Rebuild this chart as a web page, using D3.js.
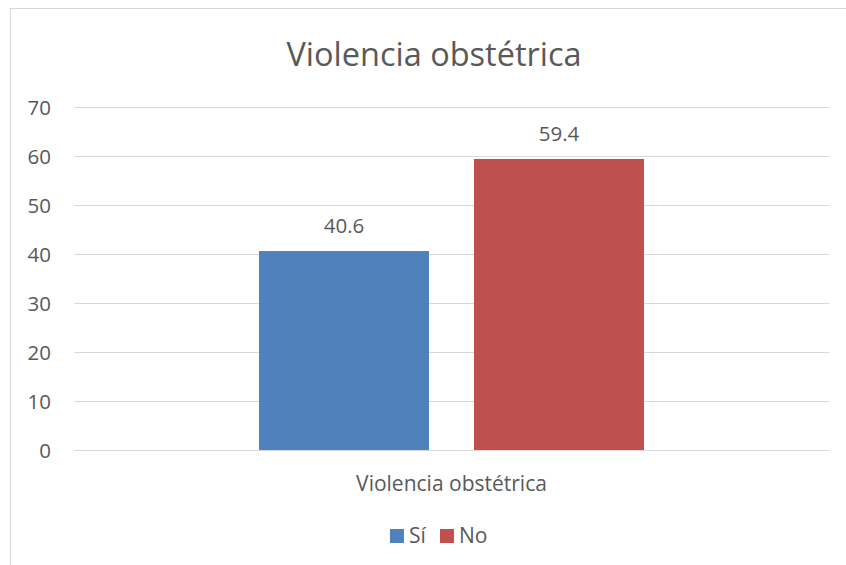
<!DOCTYPE html>
<html><head><meta charset="utf-8">
<script src="https://cdn.jsdelivr.net/npm/d3@7"></script>
<style>body{margin:0;background:#fff}svg{display:block}text{font-family:"Open Sans",Lato,sans-serif;fill:#595959}</style>
</head><body>
<script>
const title = "Violencia obstétrica";
const categories = ["Violencia obstétrica"];
const seriesNames = ["Sí", "No"];
const seriesValues = [40.6, 59.4];
const seriesColors = ["#4F81BD", "#C0504D"];
const yTicks = [0, 10, 20, 30, 40, 50, 60, 70];

(function () {
const W = 846, H = 565;
const svg = d3.select("body").append("svg").attr("width", W).attr("height", H);
svg.append("rect").attr("x", 10.5).attr("y", 8.5).attr("width", 860).attr("height", 600)
  .attr("fill", "#fff").attr("stroke", "#D9D9D9");

const pL = 74, pR = 829, pT = 107, pB = 450;
const y = d3.scaleLinear().domain([0, 70]).range([pB, pT]);
const x0 = d3.scaleBand().domain(categories).range([pL, pR]).paddingInner(0).paddingOuter(0.4805);
const x1 = d3.scaleBand().domain(seriesNames).range([0, x0.bandwidth()]).paddingInner(0.209);

svg.append("text").attr("x", 434).attr("y", 66).attr("text-anchor", "middle")
  .style("font-size", "32.5px").text(title);

svg.append("g").selectAll("line").data(yTicks).join("line")
  .attr("x1", pL).attr("x2", pR)
  .attr("y1", d => Math.round(y(d)) + 0.5).attr("y2", d => Math.round(y(d)) + 0.5)
  .attr("stroke", "#D9D9D9").attr("stroke-width", 1);

const yAxis = d3.axisLeft(y).tickValues(yTicks).tickSize(0).tickPadding(0);
const ya = svg.append("g").attr("transform", `translate(51,0)`).call(yAxis);
ya.select(".domain").remove();
ya.selectAll("text").style("font-size", "20.5px").style("font-family", "'Open Sans',Lato,sans-serif").attr("fill", "#595959").attr("dy", "0.357em");

categories.forEach(c => {
  const cg = svg.append("g").attr("transform", `translate(${x0(c)},0)`);
  cg.selectAll("rect").data(seriesNames).join("rect")
    .attr("x", d => x1(d)).attr("width", x1.bandwidth())
    .attr("y", (d, i) => y(seriesValues[i])).attr("height", (d, i) => pB - y(seriesValues[i]))
    .attr("fill", (d, i) => seriesColors[i]);
  cg.selectAll("text.lbl").data(seriesNames).join("text").attr("class", "lbl")
    .attr("x", d => x1(d) + x1.bandwidth() / 2)
    .attr("y", (d, i) => y(seriesValues[i]) - 18)
    .attr("text-anchor", "middle").style("font-size", "20.5px")
    .text((d, i) => seriesValues[i].toFixed(1));
  svg.append("text").attr("x", x0(c) + x0.bandwidth() / 2).attr("y", 491)
    .attr("text-anchor", "middle").style("font-size", "21px").text(c);
});

const legX = [390, 440];
seriesNames.forEach((s, i) => {
  svg.append("rect").attr("x", legX[i]).attr("y", 529).attr("width", 14).attr("height", 14).attr("fill", seriesColors[i]);
  svg.append("text").attr("x", legX[i] + 19).attr("y", 543).style("font-size", "21px").text(s);
});
})();
</script>
</body></html>
